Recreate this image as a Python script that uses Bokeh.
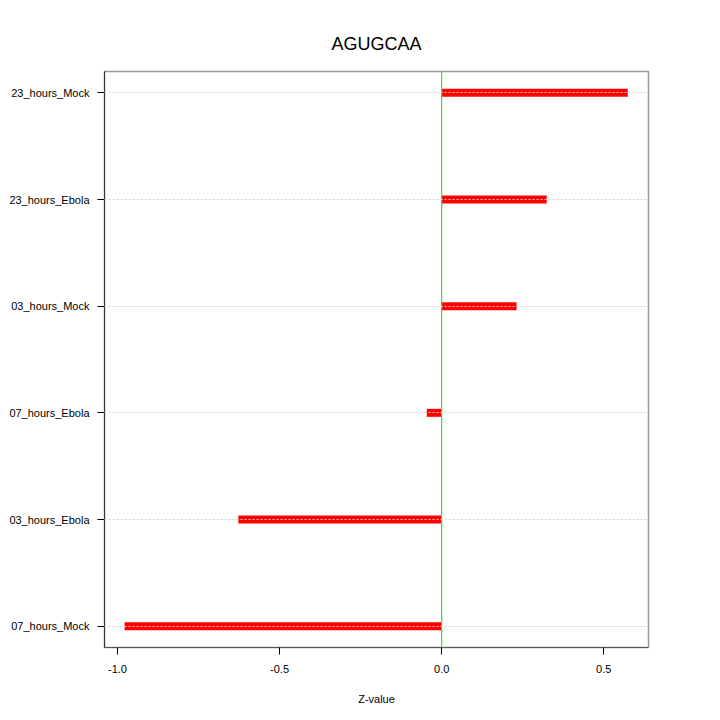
from bokeh.plotting import figure
from bokeh.models import Range1d, FixedTicker, Span, ColumnDataSource
from bokeh.embed import file_html
from bokeh.resources import INLINE

categories = ["07_hours_Mock", "03_hours_Ebola", "07_hours_Ebola", "03_hours_Mock", "23_hours_Ebola", "23_hours_Mock"]
positions = [1, 2, 3, 4, 5, 6]
zvalues = [-0.978, -0.627, -0.046, 0.231, 0.324, 0.574]
x_ticks = [-1.0, -0.5, 0.0, 0.5]
x_tick_labels = ["-1.0", "-0.5", "0.0", "0.5"]

src = ColumnDataSource(dict(y=positions, z=zvalues, zero=[0] * len(zvalues)))

p = figure(width=712, height=712, output_backend="svg", toolbar_location=None,
           x_range=Range1d(-1.04, 0.638), y_range=Range1d(0.8, 6.2),
           min_border_left=104, min_border_right=64, min_border_top=71, min_border_bottom=65)

FONT = "Liberation Sans"
p.title.text = "AGUGCAA"
p.title.align = "center"
p.title.text_font = FONT
p.title.text_font_size = "18px"
p.title.text_font_style = "normal"
p.title.text_color = "black"
p.title.standoff = 36

p.segment(x0="zero", x1="z", y0="y", y1="y", source=src, line_color="red",
          line_width=8, line_cap="butt")

p.add_layout(Span(location=0, dimension="height", line_color="#33dd33", line_width=1.2))

p.xgrid.visible = False
p.ygrid.ticker = FixedTicker(ticks=positions)
p.ygrid.grid_line_color = "#d0d0d0"
p.ygrid.grid_line_dash = "2 2"
p.ygrid.level = "overlay"

p.outline_line_color = "#999999"
p.outline_line_width = 1.5

xa = p.xaxis[0]
xa.ticker = FixedTicker(ticks=x_ticks)
xa.major_label_overrides = {t: l for t, l in zip(x_ticks, x_tick_labels)}
xa.minor_tick_line_color = None
xa.major_tick_out = 7
xa.major_tick_in = 0
xa.major_label_standoff = 10
xa.major_label_text_font = FONT
xa.major_label_text_font_size = "11px"
xa.major_label_text_color = "black"
xa.axis_label = "Z-value"
xa.axis_label_text_font = FONT
xa.axis_label_text_font_size = "11px"
xa.axis_label_text_font_style = "normal"
xa.axis_label_text_color = "black"
xa.axis_label_standoff = 17
xa.axis_line_color = "#555555"

ya = p.yaxis[0]
ya.ticker = FixedTicker(ticks=positions)
ya.major_label_overrides = {pos: c for pos, c in zip(positions, categories)}
ya.minor_tick_line_color = None
ya.major_tick_out = 7
ya.major_tick_in = 0
ya.major_label_standoff = 8
ya.major_label_text_font = FONT
ya.major_label_text_font_size = "11px"
ya.major_label_text_color = "black"
ya.axis_line_color = "#333333"

open("out.html", "w").write(file_html(p, INLINE))
